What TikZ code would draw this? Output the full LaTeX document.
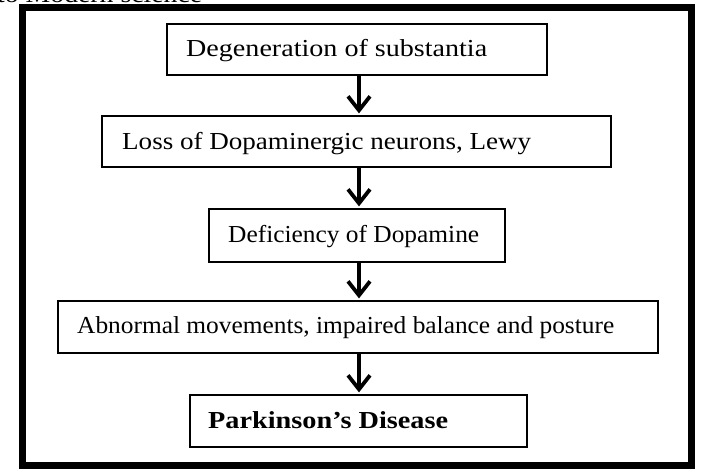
\documentclass[tikz,border=0pt]{standalone}
\usepackage{fontspec}
\setmainfont{Liberation Serif}
\usetikzlibrary{arrows.meta}
\newcommand{\fitw}[2]{\resizebox{#1}{\height}{#2}}
\begin{document}
\begin{tikzpicture}[x=1bp,y=-1bp,
  flowbox/.style={draw, line width=1.2bp, inner sep=0pt},
  lbl/.style={anchor=base west, inner sep=0pt, font=\fontsize{24.5}{26}\selectfont},
  flowarrow/.style={line width=3.8bp, -{Straight Barb[length=14bp,width=22bp,line width=3.8bp]}, shorten >=2bp}]
\useasboundingbox (0,0) rectangle (717,474);
\begin{scope}
\clip (0,0) rectangle (717,474);
\node[lbl] (top) at (-3,2.5) {\fitw{205bp}{to Modern science}};
\end{scope}
\draw[line width=7bp] (22.5,8) rectangle (691.5,465);
% boxes
\node[flowbox, minimum width=380bp, minimum height=51bp] (b1) at (357,49.5) {};
\node[flowbox, minimum width=509bp, minimum height=51bp] (b2) at (356.5,141.5) {};
\node[flowbox, minimum width=296bp, minimum height=53bp] (b3) at (357,235.5) {};
\node[flowbox, minimum width=600bp, minimum height=52bp] (b4) at (358,327) {};
\node[flowbox, minimum width=337bp, minimum height=52bp] (b5) at (358.5,421) {};
% labels
\node[lbl] (t1) at (186,57) {\fitw{301bp}{Degeneration of substantia}};
\node[lbl] (t2) at (122,150) {\fitw{409bp}{Loss of Dopaminergic neurons, Lewy}};
\node[lbl] (t3) at (228,243) {\fitw{251bp}{Deficiency of Dopamine}};
\node[lbl] (t4) at (77,334) {\fitw{537bp}{Abnormal movements, impaired balance and posture}};
\node[lbl] (t5) at (208,428) {\fitw{240bp}{\bfseries Parkinson’s Disease}};
% arrows
\draw[flowarrow] (b1.south -| 359,0) -- (b2.north -| 359,0);
\draw[flowarrow] (b2.south -| 359,0) -- (b3.north -| 359,0);
\draw[flowarrow] (b3.south -| 359,0) -- (b4.north -| 359,0);
\draw[flowarrow] (b4.south -| 359,0) -- (b5.north -| 359,0);
\end{tikzpicture}
\end{document}
